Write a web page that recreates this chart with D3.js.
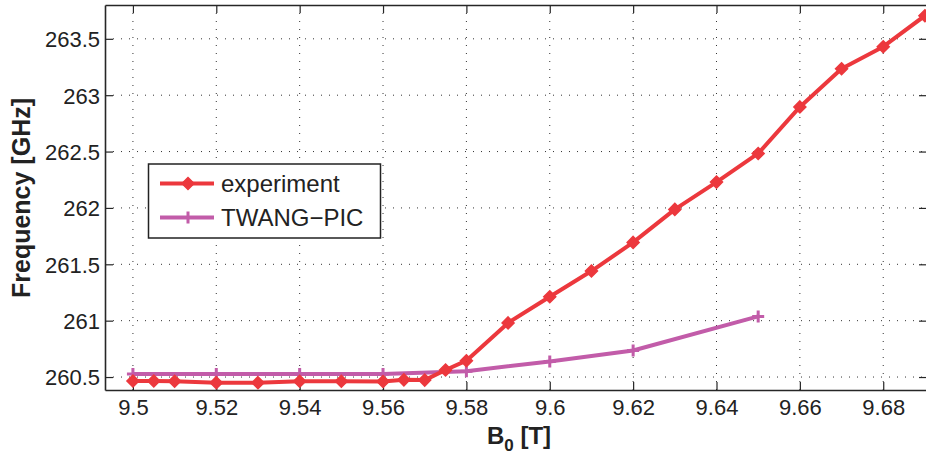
<!DOCTYPE html>
<html>
<head>
<meta charset="utf-8">
<script src="https://cdn.jsdelivr.net/npm/d3@7"></script>
<style>
  html, body { margin: 0; padding: 0; background: #fff; }
  svg { display: block; font-family: "Liberation Sans", Arial, Helvetica, sans-serif; }
</style>
</head>
<body>
<svg id="chart" width="926" height="454"></svg>
<script>
// Measured oscillation frequency vs. magnetic field, and the TWANG-PIC simulation
const expB = [9.5, 9.505, 9.51, 9.52, 9.53, 9.54, 9.55, 9.56, 9.565, 9.57, 9.575, 9.58,
              9.59, 9.6, 9.61, 9.62, 9.63, 9.64, 9.65, 9.66, 9.67, 9.68, 9.69];
const expF = [260.465, 260.465, 260.463, 260.45, 260.45, 260.463, 260.463, 260.46, 260.475, 260.473, 260.562, 260.645,
              260.98, 261.212, 261.44, 261.694, 261.987, 262.229, 262.483, 262.896, 263.235, 263.43, 263.705];
const simB = [9.5, 9.52, 9.54, 9.56, 9.58, 9.6, 9.62, 9.65];
const simF = [260.527, 260.527, 260.527, 260.527, 260.552, 260.638, 260.735, 261.038];

const xTicks = [9.5, 9.52, 9.54, 9.56, 9.58, 9.6, 9.62, 9.64, 9.66, 9.68];
const yTicks = [260.5, 261, 261.5, 262, 262.5, 263, 263.5];
const seriesNames = ["experiment", "TWANG\u2212PIC"];
const xLabel = "B";
const xLabelSub = "0";
const xLabelUnit = " [T]";
const yLabel = "Frequency [GHz]";

const RED = "#ec383d";
const PURPLE = "#c25ca9";

const svg = d3.select("#chart");
const L = 105, T = 5, R = 927, B = 390;

const x = d3.scaleLinear().domain([9.4933, 9.6905]).range([L, R]);
const y = d3.scaleLinear().domain([260.385, 263.8]).range([B, T]);

// dotted grid
const grid = svg.append("g").attr("stroke", "#333").attr("stroke-width", 1)
  .attr("stroke-dasharray", "1,7").attr("fill", "none");
xTicks.forEach(v => grid.append("line")
  .attr("x1", x(v)).attr("x2", x(v)).attr("y1", B).attr("y2", T));
yTicks.forEach(v => grid.append("line")
  .attr("y1", y(v)).attr("y2", y(v)).attr("x1", L).attr("x2", R));

// axes with inward ticks
const axisColor = "#262626";
const xAxis = svg.append("g").attr("transform", `translate(0,${B})`)
  .call(d3.axisBottom(x).tickValues(xTicks).tickSizeInner(-8).tickSizeOuter(0)
    .tickPadding(9).tickFormat(d => String(+d.toFixed(2))));
const yAxis = svg.append("g").attr("transform", `translate(${L},0)`)
  .call(d3.axisLeft(y).tickValues(yTicks).tickSizeInner(-8).tickSizeOuter(0)
    .tickPadding(5).tickFormat(d => String(d)));
const xTop = svg.append("g").attr("transform", `translate(0,${T})`)
  .call(d3.axisTop(x).tickValues(xTicks).tickSizeInner(-8).tickSizeOuter(0).tickFormat(""));
const yRight = svg.append("g").attr("transform", `translate(${R},0)`)
  .call(d3.axisRight(y).tickValues(yTicks).tickSizeInner(-8).tickSizeOuter(0).tickFormat(""));
[xAxis, yAxis, xTop, yRight].forEach(g => {
  g.select(".domain").attr("stroke", axisColor).attr("stroke-width", 1.6);
  g.selectAll(".tick line").attr("stroke", axisColor).attr("stroke-width", 1.2);
  g.selectAll(".tick text").attr("fill", "#222").style("font-size", "22px")
    .style("font-family", "'Liberation Sans', Arial, sans-serif");
});
yAxis.selectAll(".tick text").attr("dy", "0.36em");

// axis titles
const xt = svg.append("text").attr("x", 519).attr("y", 444).attr("text-anchor", "middle")
  .attr("fill", "#222").style("font-size", "24px").style("font-weight", "bold");
xt.append("tspan").text(xLabel);
xt.append("tspan").attr("dy", 7).style("font-size", "17px").text(xLabelSub);
xt.append("tspan").attr("dy", -7).text(xLabelUnit);

svg.append("text").attr("transform", `translate(30,198) rotate(-90)`)
  .attr("text-anchor", "middle").attr("fill", "#222")
  .style("font-size", "25px").style("font-weight", "bold").text(yLabel);

// series
const line = d3.line();
const plot = svg.append("g");
const expPts = expB.map((b, i) => [x(b), y(expF[i])]);
const simPts = simB.map((b, i) => [x(b), y(simF[i])]);

function diamond(g, cx, cy, r, color) {
  g.append("path").attr("d", `M${cx},${cy - r}L${cx + r},${cy}L${cx},${cy + r}L${cx - r},${cy}Z`)
    .attr("fill", color).attr("stroke", color).attr("stroke-width", 1.5);
}
function plus(g, cx, cy, r, color) {
  g.append("path").attr("d", `M${cx - r},${cy}H${cx + r}M${cx},${cy - r}V${cy + r}`)
    .attr("stroke", color).attr("stroke-width", 3).attr("fill", "none");
}

plot.append("path").attr("d", line(simPts)).attr("fill", "none")
  .attr("stroke", PURPLE).attr("stroke-width", 4).attr("stroke-linejoin", "round");
simPts.forEach(p => plus(plot, p[0], p[1], 6, PURPLE));

plot.append("path").attr("d", line(expPts)).attr("fill", "none")
  .attr("stroke", RED).attr("stroke-width", 4).attr("stroke-linejoin", "round");
expPts.forEach(p => diamond(plot, p[0], p[1], 6, RED));

// legend
const lg = svg.append("g");
lg.append("rect").attr("x", 148.5).attr("y", 164).attr("width", 232).attr("height", 74)
  .attr("fill", "#fff").attr("stroke", "#222").attr("stroke-width", 1.5);
const legendRows = [
  { name: seriesNames[0], color: RED, y: 183.5, marker: diamond },
  { name: seriesNames[1], color: PURPLE, y: 217.5, marker: plus }
];
legendRows.forEach(r => {
  lg.append("line").attr("x1", 160).attr("x2", 214).attr("y1", r.y).attr("y2", r.y)
    .attr("stroke", r.color).attr("stroke-width", 4);
  r.marker(lg, 188, r.y, 6, r.color);
  lg.append("text").attr("x", 221).attr("y", r.y).attr("dy", "0.36em")
    .attr("fill", "#222").style("font-size", "24px").text(r.name);
});
</script>
</body>
</html>
